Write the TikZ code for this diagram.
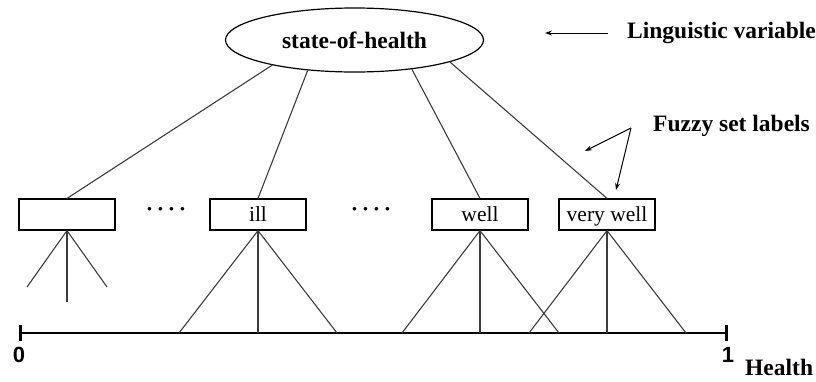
\documentclass[tikz,border=0pt]{standalone}
\usepackage{fontspec}
\setmainfont{Liberation Serif}
\newfontfamily\digitfont{Liberation Sans}
\usetikzlibrary{shapes.geometric,arrows.meta}
\definecolor{linegray}{HTML}{3C3C3C}
\begin{document}
\begin{tikzpicture}[x=1pt,y=-1pt,
  link/.style={draw=linegray,line width=1.1pt},
  setbox/.style={draw=black,line width=1.2pt,minimum width=96pt,minimum height=31pt,
    inner sep=0pt,text height=14.5pt,text depth=0pt,font=\fontsize{21.5}{24}\selectfont},
  caption/.style={anchor=base west,inner sep=0pt,font=\fontsize{23.5}{28}\selectfont\bfseries},
  pointer/.style={draw=black,line width=1pt,-{Stealth[length=7pt,width=5pt]}},
  ellipsis/.style={anchor=base,inner sep=0pt,font=\fontsize{22}{24}\selectfont\bfseries},
  axislabel/.style={anchor=north,inner sep=0pt,font=\fontsize{22}{24}\selectfont\digitfont\bfseries},
]
\useasboundingbox (0,0) rectangle (816,381);

% linguistic variable
\node[ellipse,draw,line width=1.2pt,minimum width=258pt,minimum height=64pt,inner sep=0pt,
  font=\fontsize{23.5}{28}\selectfont\bfseries] (soh) at (354.5,40) {state-of-health};

% fuzzy set label boxes
\node[setbox] (b1) at (67,214.5) {};
\node[setbox] (ill) at (258,214.5) {ill};
\node[setbox] (well) at (480,214.5) {well};
\node[setbox] (vwell) at (607,214.5) {very well};

\node[ellipsis] (dots1) at (166,216.5) {·\,·\,·\,·};
\node[ellipsis] (dots2) at (371,216.5) {·\,·\,·\,·};

% links from the variable to its labels
\draw[link] (soh.197) -- (b1.north);
\draw[link] (soh.213) -- (ill.north);
\draw[link] (soh.333) -- (well.north);
\draw[link] (soh.347) -- (vwell.north);

% captions and pointers
\node[caption] (lv) at (627,38) {Linguistic variable};
\node[caption] (fsl) at (653,131) {Fuzzy set labels};
\coordinate (lvtail) at (608,33);
\coordinate (lvhead) at (545,33);
\draw[pointer] (lvtail) -- (lvhead);
\coordinate (fz) at (631,128);
\coordinate (fzA) at (585,151);
\coordinate (fzB) at (616,190);
\draw[pointer] (fz) -- (fzA);
\draw[pointer] (fz) -- (fzB);

% health axis
\coordinate (h0) at (19,333);
\coordinate (h1) at (728,333);
\draw[line width=2.6pt,{Bar[width=16pt]}-{Bar[width=16pt]}] (h0) -- (h1);
\node[axislabel] (n0) at (19,347) {0};
\node[axislabel] (n1) at (728,347) {1};
\node[caption] (hl) at (745,375) {Health};

% membership functions
\coordinate (b1L) at (27,287);
\coordinate (b1M) at (67,302);
\coordinate (b1R) at (107,287);
\draw[link] (b1.south) -- (b1L);
\draw[link] (b1.south) -- (b1M);
\draw[link] (b1.south) -- (b1R);

\coordinate (illL) at (179,333);
\coordinate (illM) at (258,333);
\coordinate (illR) at (337,333);
\draw[link] (ill.south) -- (illL);
\draw[link] (ill.south) -- (illM);
\draw[link] (ill.south) -- (illR);

\coordinate (wellL) at (402,333);
\coordinate (wellM) at (480,333);
\coordinate (wellR) at (559,333);
\draw[link] (well.south) -- (wellL);
\draw[link] (well.south) -- (wellM);
\draw[link] (well.south) -- (wellR);

\coordinate (vwellL) at (529,333);
\coordinate (vwellM) at (607,333);
\coordinate (vwellR) at (686,333);
\draw[link] (vwell.south) -- (vwellL);
\draw[link] (vwell.south) -- (vwellM);
\draw[link] (vwell.south) -- (vwellR);
\end{tikzpicture}
\end{document}
